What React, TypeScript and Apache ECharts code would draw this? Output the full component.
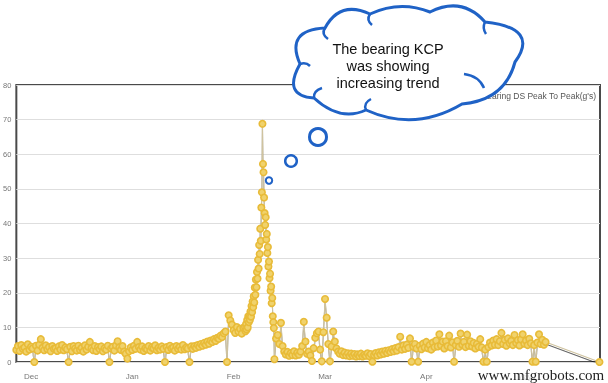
import React, { useEffect, useRef } from 'react';
import * as echarts from 'echarts';

// 12-hour samples from 26 Nov 12:00 to 4 Feb 00:00
const decJanValues = [
  3.5, 4.6, 3.2, 4.9, 3.8, 4.2, 3.0, 5.1, 3.6, 4.4,
  3.9, 0, 4.7, 3.3, 5.0, 6.6, 4.1, 3.4, 4.8, 3.7,
  4.3, 3.1, 4.6, 3.8, 4.0, 3.2, 4.5, 3.6, 4.9, 3.4,
  4.2, 3.7, 0, 4.4, 3.1, 4.6, 3.9, 3.3, 4.7, 3.5,
  4.1, 3.0, 4.8, 3.6, 4.4, 5.8, 4.0, 3.4, 4.6, 3.2,
  4.3, 3.7, 4.5, 3.1, 4.0, 3.6, 4.7, 0, 3.9, 4.4,
  3.3, 4.8, 6.0, 4.2, 3.5, 4.6, 3.0, 2.4, 1.0, 3.1,
  4.2, 3.5, 4.7, 3.8, 5.8, 4.3, 3.6, 4.5, 3.2, 4.0,
  3.7, 4.6, 3.3, 4.2, 3.9, 4.8, 3.4, 4.1, 3.6, 4.5,
  3.8, 0, 4.3, 3.5, 4.7, 3.9, 4.2, 3.3, 4.6, 3.8,
  4.4, 3.6, 4.9, 3.7, 4.2, 3.9, 0, 4.5, 3.8, 4.6,
  4.1, 4.9, 4.4, 5.2, 4.7, 5.5, 5.0, 5.9, 5.3, 6.2,
  5.8, 6.6, 6.1, 7.0, 6.7, 7.6, 7.2, 8.3, 8.8, 0,
  13.5, 12.0, 10.8, 9.2, 8.4, 10.1, 8.8, 9.6, 8.2, 9.9,
];

// 4-hour samples from 4 Feb 12:00 (the spike)
const spikeValues = [
  10.2, 8.9, 11.0, 9.4, 12.1, 10.0, 13.2, 11.5, 13.0, 12.2,
  14.6, 13.1, 16.2, 14.4, 17.5, 15.8, 19.0, 17.2, 21.5, 19.4,
  23.8, 21.6, 26.0, 24.1, 29.5, 27.0, 33.8, 31.2, 38.5, 35.0,
  44.6, 49.0, 68.8, 57.2, 54.8, 47.5, 43.0, 39.6, 41.8, 35.4,
  37.0, 31.5, 33.2, 27.6, 29.0, 24.2, 25.5, 20.6, 21.8, 17.0,
  18.5, 13.2, 11.5, 9.8,
];

// 12-hour samples from 13 Feb 12:00 to 7 May 12:00
const marMayValues = [
  0.8, 6.8, 7.8, 5.2, 11.3, 4.6, 3.0, 2.2, 2.9, 1.8,
  2.6, 2.0, 3.1, 1.9, 2.7, 2.1, 3.0, 4.6, 11.6, 5.9,
  2.4, 3.0, 1.9, 0.3, 4.0, 7.0, 8.3, 8.8, 3.6, 0.2,
  8.6, 18.2, 12.8, 5.2, 0.2, 4.5, 8.8, 5.9, 3.9, 3.0,
  2.4, 3.1, 2.0, 2.7, 1.9, 2.5, 1.7, 2.4, 1.8, 2.3,
  1.6, 2.2, 1.7, 2.4, 1.6, 2.1, 1.8, 2.5, 1.7, 2.3,
  0.1, 2.0, 2.6, 1.9, 2.8, 2.2, 3.0, 2.4, 3.2, 2.6,
  3.4, 2.9, 3.7, 3.1, 4.0, 3.3, 4.3, 7.3, 3.6, 4.8,
  3.8, 5.0, 4.1, 6.8, 0.1, 4.4, 5.2, 3.9, 0.1, 4.7,
  3.7, 5.3, 4.2, 5.8, 4.0, 4.9, 3.6, 5.6, 4.3, 6.2,
  4.5, 8.0, 4.8, 5.9, 3.9, 6.0, 4.6, 7.6, 4.2, 5.7,
  0.1, 4.9, 6.1, 4.4, 8.2, 5.0, 5.8, 4.3, 7.9, 4.7,
  6.0, 4.5, 5.5, 3.9, 5.2, 4.4, 6.6, 4.2, 0.1, 3.6,
  0.1, 4.3, 5.6, 4.8, 6.2, 5.0, 6.6, 4.9, 6.0, 8.4,
  5.2, 6.4, 4.7, 6.8, 5.4, 6.1, 4.9, 7.8, 5.5, 6.3,
  4.8, 6.5, 8.0, 5.3, 6.2, 4.9, 6.7, 5.4, 0.1, 4.9,
  0.1, 5.6, 8.0, 5.2, 6.4, 5.0, 5.8,
];

const tailValue = 0;

const yTicks = [0, 10, 20, 30, 40, 50, 60, 70, 80];
const monthNames = ['Jan', 'Feb', 'Mar', 'Apr', 'May', 'Jun', 'Jul', 'Aug', 'Sep', 'Oct', 'Nov', 'Dec'];
const seriesName = "Bearing DS Peak To Peak(g's)";
const cloudLines = ['The bearing KCP', 'was showing', 'increasing trend'];

const HOUR = 3600 * 1000;
const axisMin = new Date(2016, 10, 26, 12).getTime();
const axisMax = new Date(2017, 4, 24, 4).getTime();

const segments = [
  { start: new Date(2016, 10, 26, 12).getTime(), step: 12 * HOUR, values: decJanValues },
  { start: new Date(2017, 1, 4, 12).getTime(), step: 4 * HOUR, values: spikeValues },
  { start: new Date(2017, 1, 13, 12).getTime(), step: 12 * HOUR, values: marMayValues },
];

const CLOUD_D =
  'M300 64 Q285 30 325 28 Q340 0 370 14 Q400 0 430 12 Q462 -4 485 22 Q540 28 515 62 Q505 100 462 104 Q415 132 366 110 Q340 122 314 98 Q282 96 300 64 Z';

const cloudHooks = [
  [314, 98, 313, 91, 322, 88],
  [366, 110, 363, 103, 371, 99],
  [464, 74, 479, 76, 484, 88],
  [370, 14, 366, 20, 372, 25],
  [325, 28, 321, 34, 328, 39],
  [485, 22, 482, 28, 486, 34],
  [300, 64, 306, 62, 310, 66],
];

let registered = false;
function ensureShapes() {
  if (registered) return;
  echarts.graphic.registerShape('cloud', echarts.graphic.extendPath(CLOUD_D, {}));
  registered = true;
}

export default function App() {
  const ref = useRef<HTMLDivElement>(null);
  useEffect(() => {
    if (!ref.current) return;
    ensureShapes();
    const chart = echarts.init(ref.current, undefined, { renderer: 'svg' });
    const data: [number, number][] = [];
    segments.forEach((s) => {
      s.values.forEach((v, i) => data.push([s.start + i * s.step, v]));
    });
    data.push([new Date(2017, 4, 24, 0).getTime(), tailValue]);

    const blue = '#1f62c6';
    chart.setOption({
      animation: false,
      grid: {
        left: 14,
        right: 8,
        top: 85,
        bottom: 21,
        show: true,
        borderColor: '#4a4a4a',
        borderWidth: 2,
        backgroundColor: 'transparent',
      },
      xAxis: {
        type: 'time',
        min: axisMin,
        max: axisMax,
        splitNumber: 6,
        axisLine: { show: false },
        axisTick: { show: false },
        splitLine: { show: false },
        axisLabel: {
          color: '#777',
          fontSize: 8,
          fontFamily: 'Liberation Sans',
          margin: 10,
          formatter: (val: number) => monthNames[new Date(val).getMonth()],
        },
      },
      yAxis: {
        type: 'value',
        min: yTicks[0],
        max: yTicks[yTicks.length - 1],
        interval: 10,
        axisLine: { show: false },
        axisTick: { show: false },
        splitLine: { lineStyle: { color: '#dedede', width: 1 } },
        axisLabel: { color: '#777', fontSize: 7.5, fontFamily: 'Liberation Sans', margin: 5 },
      },
      series: [
        {
          name: seriesName,
          type: 'line',
          data,
          showSymbol: true,
          showAllSymbol: true,
          symbol: 'circle',
          symbolSize: 6.5,
          lineStyle: {
            color: '#cfc39f',
            width: 1.1,
            shadowColor: 'rgba(0,0,0,0.6)',
            shadowBlur: 1,
            shadowOffsetY: 2,
          },
          itemStyle: { color: '#f0d26c', borderColor: '#e8bb38', borderWidth: 1.6 },
          emphasis: { disabled: true },
        },
      ],
      graphic: [
        {
          type: 'text',
          z: 50,
          style: {
            text: seriesName,
            x: 596,
            y: 96,
            align: 'right',
            verticalAlign: 'middle',
            fontSize: 8.5,
            fontFamily: 'Liberation Sans',
            fill: '#555',
          },
        },
        {
          type: 'cloud',
          z: 100,
          x: 0,
          y: 0,
          style: { fill: '#ffffff', stroke: blue, lineWidth: 3 },
        },
        ...cloudHooks.map((h) => ({
          type: 'bezierCurve',
          z: 101,
          shape: { x1: h[0], y1: h[1], cpx1: h[2], cpy1: h[3], x2: h[4], y2: h[5] },
          style: { stroke: blue, lineWidth: 2.5, fill: 'none' },
        })),
        { type: 'circle', z: 100, shape: { cx: 318, cy: 137, r: 8.5 }, style: { fill: '#fff', stroke: blue, lineWidth: 3 } },
        { type: 'circle', z: 100, shape: { cx: 291, cy: 161, r: 5.8 }, style: { fill: '#fff', stroke: blue, lineWidth: 2.5 } },
        { type: 'circle', z: 100, shape: { cx: 269, cy: 180.5, r: 3.2 }, style: { fill: '#fff', stroke: blue, lineWidth: 2 } },
        ...cloudLines.map((t, i) => ({
          type: 'text',
          z: 110,
          style: {
            text: t,
            x: 388,
            y: 49 + i * 17,
            align: 'center',
            verticalAlign: 'middle',
            fontSize: 14.5,
            fontFamily: 'Liberation Sans',
            fill: '#111',
          },
        })),
        {
          type: 'rect',
          z: 120,
          shape: { x: 474, y: 366, width: 134, height: 17 },
          style: { fill: 'rgba(255,255,255,0.75)' },
        },
        {
          type: 'text',
          z: 121,
          style: {
            text: 'www.mfgrobots.com',
            x: 541,
            y: 374.5,
            align: 'center',
            verticalAlign: 'middle',
            fontSize: 15,
            fontFamily: 'Liberation Serif',
            fill: '#222',
          },
        },
      ],
    });
    return () => chart.dispose();
  }, []);
  return <div ref={ref} style={{ position: 'fixed', left: 0, top: 0, width: 608, height: 383 }} />;
}
